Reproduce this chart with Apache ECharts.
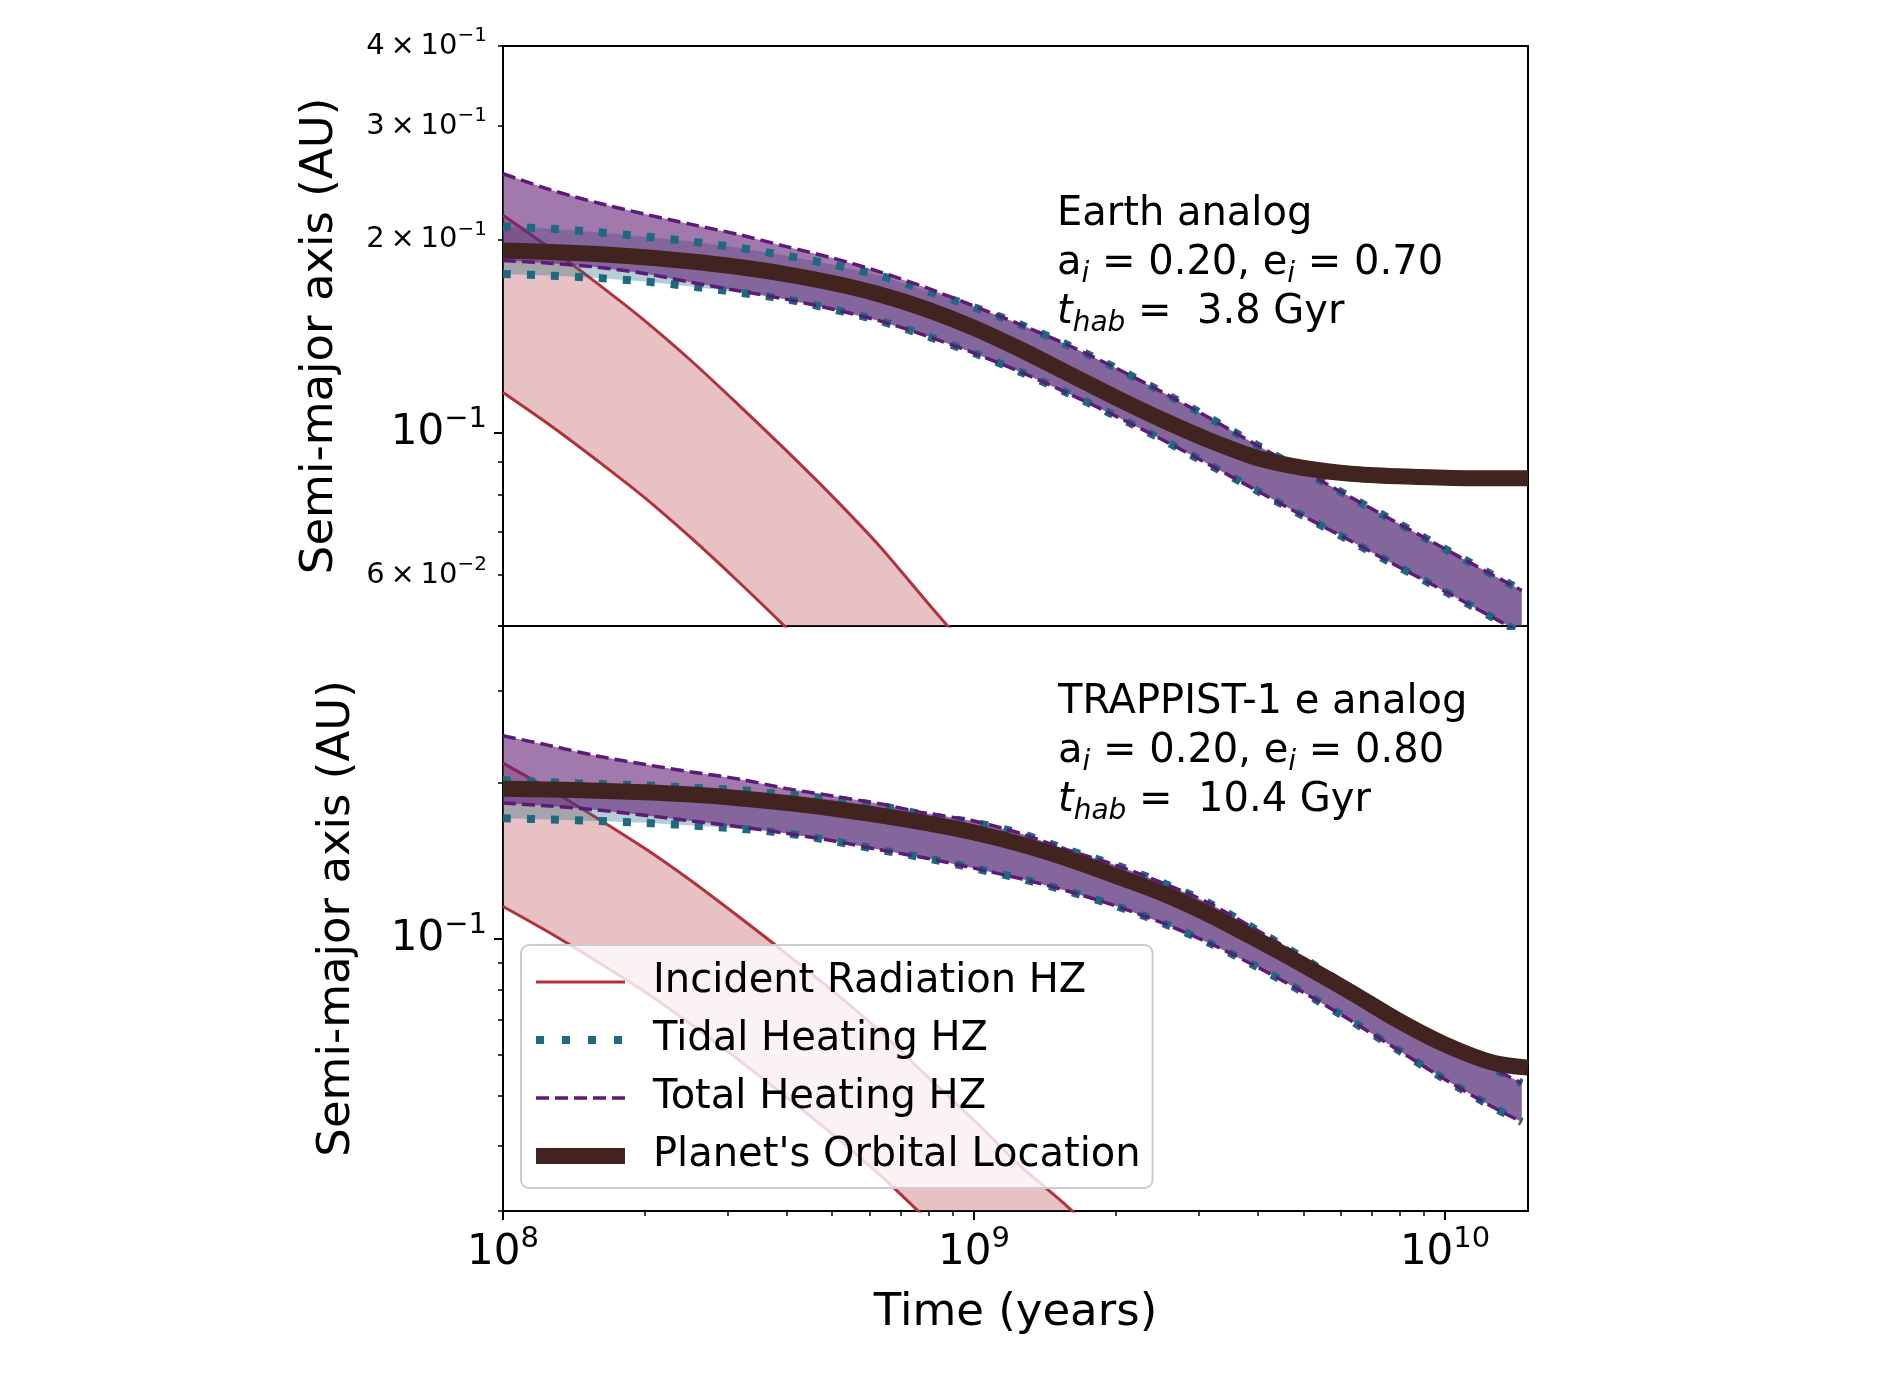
<!DOCTYPE html>
<html>
<head>
<meta charset="utf-8">
<title>Habitable zones vs orbital evolution</title>
<script src="https://cdn.jsdelivr.net/npm/echarts@6/dist/echarts.min.js"></script>
<style>
html, body { margin: 0; padding: 0; background: #fff; }
#main { width: 1895px; height: 1381px; }
</style>
</head>
<body>
<div id="main"></div>
<script>
// time grid (years) the curves were read at
var timeBand = [1e8, 1.259e8, 1.585e8, 1.995e8, 2.512e8, 3.162e8, 3.981e8, 5.012e8, 6.310e8, 7.943e8,
  1e9, 1.259e9, 1.585e9, 1.995e9, 2.512e9, 3.162e9, 3.981e9, 5.012e9, 6.310e9, 7.943e9,
  1e10, 1.259e10, 1.455e10];
var timePlanet = [1e8, 1.259e8, 1.585e8, 1.995e8, 2.512e8, 3.162e8, 3.981e8, 5.012e8, 6.310e8, 7.943e8,
  1e9, 1.259e9, 1.585e9, 1.995e9, 2.512e9, 3.162e9, 3.981e9, 5.012e9, 6.310e9, 7.943e9,
  1e10, 1.259e10, 1.5e10];
var timeRad = [1e8, 1.259e8, 1.585e8, 1.995e8, 2.512e8, 3.162e8, 3.981e8, 5.012e8, 6.310e8, 7.943e8,
  1e9, 1.259e9, 1.585e9, 1.995e9];

// incident radiation HZ (same star in both panels)
var radUpper = [0.218, 0.1937, 0.1708, 0.1496, 0.1293, 0.1105, 0.094, 0.0795, 0.0665, 0.0545, 0.0448, 0.0365, 0.0305, 0.025];
var radLower = [0.1155, 0.1027, 0.0905, 0.0793, 0.0685, 0.0586, 0.0498, 0.0421, 0.0352, 0.0289, 0.0237, 0.0193, 0.0162, 0.0133];

// Earth analog (top panel)
var earthTotalUpper = [0.253, 0.239, 0.228, 0.219, 0.211, 0.2035, 0.195, 0.187, 0.178, 0.168, 0.1574, 0.1472, 0.1368, 0.1262, 0.1156, 0.1054, 0.0957, 0.0871, 0.0793, 0.0723, 0.0659, 0.0601, 0.0568];
var earthTotalLower = [0.1854, 0.1836, 0.181, 0.177, 0.1714, 0.1663, 0.1614, 0.1557, 0.1493, 0.1414, 0.133, 0.1242, 0.1151, 0.1062, 0.0975, 0.0891, 0.0813, 0.0741, 0.0678, 0.0619, 0.0566, 0.0516, 0.0488];
var earthTidalUpper = [0.2095, 0.2077, 0.2052, 0.202, 0.1984, 0.194, 0.1887, 0.1826, 0.1756, 0.1663, 0.1568, 0.1472, 0.1368, 0.1262, 0.1156, 0.1054, 0.0957, 0.0871, 0.0793, 0.0723, 0.0659, 0.0601, 0.0568];
var earthTidalLower = [0.1767, 0.1756, 0.1741, 0.172, 0.1689, 0.1653, 0.1614, 0.1557, 0.1493, 0.1414, 0.133, 0.1242, 0.1151, 0.1062, 0.0975, 0.0891, 0.0813, 0.0741, 0.0678, 0.0619, 0.0566, 0.0516, 0.0488];
var earthPlanet = [0.1921, 0.1912, 0.1897, 0.1875, 0.1847, 0.1811, 0.1766, 0.171, 0.1641, 0.1556, 0.1456, 0.1346, 0.1236, 0.1135, 0.1047, 0.0973, 0.0914, 0.0881, 0.0863, 0.0855, 0.0851, 0.0849, 0.0849];

// TRAPPIST-1 e analog (bottom panel)
var trapTotalUpper = [0.246, 0.2355, 0.225, 0.2168, 0.2096, 0.2032, 0.1949, 0.1884, 0.182, 0.1745, 0.1687, 0.1595, 0.1483, 0.1388, 0.1283, 0.1171, 0.1041, 0.0918, 0.0804, 0.0708, 0.0631, 0.0565, 0.0528];
var trapTotalLower = [0.1827, 0.1802, 0.1772, 0.1731, 0.1687, 0.1645, 0.1598, 0.1545, 0.1485, 0.143, 0.1369, 0.1306, 0.1236, 0.1159, 0.1074, 0.0982, 0.0885, 0.0789, 0.0697, 0.0612, 0.0537, 0.0476, 0.0445];
var trapTidalUpper = [0.2022, 0.2002, 0.1988, 0.1975, 0.1955, 0.1935, 0.1896, 0.1858, 0.1805, 0.173, 0.1675, 0.1595, 0.1483, 0.1388, 0.1283, 0.1171, 0.1041, 0.0918, 0.0804, 0.0708, 0.0631, 0.0565, 0.0528];
var trapTidalLower = [0.1707, 0.1699, 0.1687, 0.1673, 0.1653, 0.1631, 0.1598, 0.1545, 0.1485, 0.143, 0.1369, 0.1306, 0.1236, 0.1159, 0.1074, 0.0982, 0.0885, 0.0789, 0.0697, 0.0612, 0.0537, 0.0476, 0.0445];
var trapPlanet = [0.1945, 0.1939, 0.1929, 0.1916, 0.1896, 0.1866, 0.1828, 0.1782, 0.173, 0.1671, 0.1603, 0.1521, 0.1426, 0.1324, 0.1225, 0.1114, 0.0998, 0.0891, 0.0791, 0.0698, 0.0627, 0.0579, 0.0566];

// ticks and tick labels
var xMajorTicks = [1e8, 1e9, 1e10];
var xMajorExp = ['8', '9', '10'];
var xMinorTicks = [2e8, 3e8, 4e8, 5e8, 6e8, 7e8, 8e8, 9e8, 2e9, 3e9, 4e9, 5e9, 6e9, 7e9, 8e9, 9e9];
var yTopLabelValues = [0.06, 0.1, 0.2, 0.3, 0.4];
var yTopMantissa = ['6', '', '2', '3', '4'];
var yTopExp = ['\u22122', '\u22121', '\u22121', '\u22121', '\u22121'];
var yTopMinorTicks = [0.05, 0.06, 0.07, 0.08, 0.09, 0.2, 0.3, 0.4];
var yBotLabelValues = [0.1];
var yBotMantissa = [''];
var yBotExp = ['\u22121'];
var yBotMinorTicks = [0.03, 0.04, 0.05, 0.06, 0.07, 0.08, 0.09, 0.2, 0.3, 0.4];

var legendNames = ['Incident Radiation HZ', 'Tidal Heating HZ', 'Total Heating HZ', "Planet's Orbital Location"];

var FONT = 'DejaVu Sans';
var RED = '#b2323c';
var TEAL = '#1c6a80';
var PURPLE = '#5e1a78';
var BROWN = '#412320';

var myChart = echarts.init(document.getElementById('main'), null, { renderer: 'canvas' });

function pairs(times, vals) {
  var out = [];
  for (var i = 0; i < vals.length; i++) out.push([times[i], vals[i]]);
  return out;
}

function pick(values, v) {
  var best = 0, d = Infinity;
  for (var i = 0; i < values.length; i++) {
    var dd = Math.abs(Math.log(values[i]) - Math.log(v));
    if (dd < d) { d = dd; best = i; }
  }
  return best;
}

// fill between two curves, drawn as polygon through the axis scales
function band(gi, times, upper, lower, color, z) {
  return {
    type: 'custom', xAxisIndex: gi * 2, yAxisIndex: gi * 2, z: z, silent: true, clip: true,
    data: [[1e9, 0.1]],
    encode: { x: 0, y: 1 },
    renderItem: function (params, api) {
      var pts = [];
      for (var i = 0; i < upper.length; i++) pts.push(api.coord([times[i], upper[i]]));
      for (var j = lower.length - 1; j >= 0; j--) pts.push(api.coord([times[j], lower[j]]));
      var cs = params.coordSys;
      return {
        type: 'group',
        clipPath: { type: 'rect', shape: { x: cs.x, y: cs.y, width: cs.width, height: cs.height } },
        children: [{ type: 'polygon', shape: { points: pts }, style: { fill: color } }]
      };
    }
  };
}

function line(gi, name, times, vals, ls, z) {
  return {
    type: 'line', name: name, xAxisIndex: gi * 2, yAxisIndex: gi * 2, z: z,
    data: pairs(times, vals), symbol: 'none', showSymbol: false, smooth: 0.3,
    clip: true, silent: true, lineStyle: ls, itemStyle: { color: ls.color }
  };
}

var redLS = { color: RED, width: 3 };
var tealLS = { color: TEAL, width: 8, type: [8, 16], cap: 'butt' };
var purpleLS = { color: PURPLE, width: 3.5, type: [13, 6] };
var brownLS = { color: BROWN, width: 16 };

function panelSeries(gi, tu, tl, du, dl, pl) {
  return [
    band(gi, timeRad, radUpper, radLower, 'rgba(178,50,60,0.3)', 1),
    line(gi, legendNames[0], timeRad, radUpper, redLS, 2),
    line(gi, legendNames[0], timeRad, radLower, redLS, 2),
    band(gi, timeBand, du, dl, 'rgba(31,106,128,0.33)', 3),
    band(gi, timeBand, tu, tl, 'rgba(100,32,118,0.6)', 3),
    line(gi, legendNames[1], timeBand, du, tealLS, 4),
    line(gi, legendNames[1], timeBand, dl, tealLS, 4),
    line(gi, legendNames[2], timeBand, tu, purpleLS, 5),
    line(gi, legendNames[2], timeBand, tl, purpleLS, 5),
    line(gi, legendNames[3], timePlanet, pl, brownLS, 6)
  ];
}

var richTick = {
  b: { fontSize: 42, fontFamily: FONT, color: '#000', lineHeight: 56, verticalAlign: 'middle' },
  e: { fontSize: 29, fontFamily: FONT, color: '#000', lineHeight: 27, verticalAlign: 'top' },
  m: { fontSize: 29, fontFamily: FONT, color: '#000', lineHeight: 40, verticalAlign: 'middle' },
  s: { fontSize: 20, fontFamily: FONT, color: '#000', lineHeight: 20, verticalAlign: 'top' }
};

function yFormatter(values, mant, exps) {
  return function (v) {
    var i = pick(values, v);
    if (mant[i] === '') return '{b|10}{e|' + exps[i] + '}';
    return '{m|' + mant[i] + '\u2009\u00d7\u200910}{s|' + exps[i] + '}';
  };
}

function xAxes(gi, showLabels) {
  return [{
    type: 'log', logBase: 10, gridIndex: gi, min: 1e8, max: 1.5e10, position: 'bottom',
    axisLine: { show: false }, splitLine: { show: false },
    axisTick: { show: showLabels, customValues: xMajorTicks, length: 9, lineStyle: { color: '#000', width: 2 } },
    axisLabel: {
      show: showLabels, customValues: xMajorTicks, margin: 14, rich: richTick,
      formatter: function (v) { return '{b|10}{e|' + xMajorExp[pick(xMajorTicks, v)] + '}'; }
    },
    name: showLabels ? 'Time (years)' : '', nameLocation: 'middle', nameGap: 80,
    nameTextStyle: { fontSize: 45, fontFamily: FONT, color: '#000' }
  }, {
    type: 'log', logBase: 10, gridIndex: gi, min: 1e8, max: 1.5e10, position: 'bottom',
    axisLine: { show: false }, splitLine: { show: false }, axisLabel: { show: false },
    axisTick: { show: showLabels, customValues: xMinorTicks, length: 5, lineStyle: { color: '#000', width: 1.5 } }
  }];
}

function yAxes(gi, min, labelValues, mant, exps, minorTicks, nameGap) {
  return [{
    type: 'log', logBase: 10, gridIndex: gi, min: min, max: 0.4, position: 'left',
    axisLine: { show: false }, splitLine: { show: false },
    axisTick: { customValues: [0.1], length: 9, lineStyle: { color: '#000', width: 2 } },
    axisLabel: { customValues: labelValues, margin: 16, rich: richTick, formatter: yFormatter(labelValues, mant, exps) },
    name: 'Semi-major axis (AU)', nameLocation: 'middle', nameRotate: 90, nameGap: nameGap,
    nameTextStyle: { fontSize: 45, fontFamily: FONT, color: '#000' }
  }, {
    type: 'log', logBase: 10, gridIndex: gi, min: min, max: 0.4, position: 'left',
    axisLine: { show: false }, splitLine: { show: false }, axisLabel: { show: false },
    axisTick: { customValues: minorTicks, length: 5, lineStyle: { color: '#000', width: 1.5 } }
  }];
}

var annRich = {
  n: { fontSize: 40, fontFamily: FONT, color: '#000', lineHeight: 49, verticalAlign: 'middle' },
  s: { fontSize: 28, fontFamily: FONT, fontStyle: 'italic', color: '#000', lineHeight: 34, verticalAlign: 'bottom' },
  t: { fontSize: 40, fontFamily: FONT, fontStyle: 'italic', color: '#000', lineHeight: 49, verticalAlign: 'middle' }
};

function annText(title, ai, ei, thab) {
  return '{n|' + title + '}\n' +
    '{n|a}{s|i}{n| = ' + ai + ', e}{s|i}{n| = ' + ei + '}\n' +
    '{t|t}{s|hab}{n| =  ' + thab + ' Gyr}';
}

var option = {
  backgroundColor: '#fff',
  animation: false,
  tooltip: { show: false },
  grid: [
    { left: 503, top: 46, width: 1025, height: 580, show: true, borderColor: '#000', borderWidth: 2, backgroundColor: '#fff' },
    { left: 503, top: 626, width: 1025, height: 585, show: true, borderColor: '#000', borderWidth: 2, backgroundColor: 'transparent' }
  ],
  xAxis: xAxes(0, false).concat(xAxes(1, true)),
  yAxis: yAxes(0, 0.05, yTopLabelValues, yTopMantissa, yTopExp, yTopMinorTicks, 160)
    .concat(yAxes(1, 0.03, yBotLabelValues, yBotMantissa, yBotExp, yBotMinorTicks, 143)),
  legend: {
    orient: 'vertical', left: 521, top: 945, selectedMode: false,
    itemWidth: 89, itemHeight: 20, itemGap: 18,
    padding: [17, 12, 12, 7],
    backgroundColor: 'rgba(255,255,255,0.8)', borderColor: '#cccccc', borderWidth: 2, borderRadius: 8,
    itemStyle: { opacity: 0 },
    textStyle: { fontSize: 40, fontFamily: FONT, color: '#000', lineHeight: 40, padding: [0, 0, 0, 23] },
    data: [
      { name: legendNames[0], lineStyle: { color: RED, width: 3, opacity: 1 } },
      { name: legendNames[1], lineStyle: { color: TEAL, width: 8, type: [8, 18], cap: 'butt', opacity: 1 } },
      { name: legendNames[2], lineStyle: { color: PURPLE, width: 3.5, type: [13, 6], opacity: 1 } },
      { name: legendNames[3], lineStyle: { color: BROWN, width: 16, opacity: 1 } }
    ]
  },
  graphic: [
    { type: 'text', left: 1057, top: 195, z: 10,
      style: { text: annText('Earth analog', '0.20', '0.70', '3.8'), rich: annRich, fill: '#000' } },
    { type: 'text', left: 1058, top: 683, z: 10,
      style: { text: annText('TRAPPIST-1 e analog', '0.20', '0.80', '10.4'), rich: annRich, fill: '#000' } }
  ],
  series: panelSeries(0, earthTotalUpper, earthTotalLower, earthTidalUpper, earthTidalLower, earthPlanet)
    .concat(panelSeries(1, trapTotalUpper, trapTotalLower, trapTidalUpper, trapTidalLower, trapPlanet))
};

myChart.setOption(option);
</script>
</body>
</html>
